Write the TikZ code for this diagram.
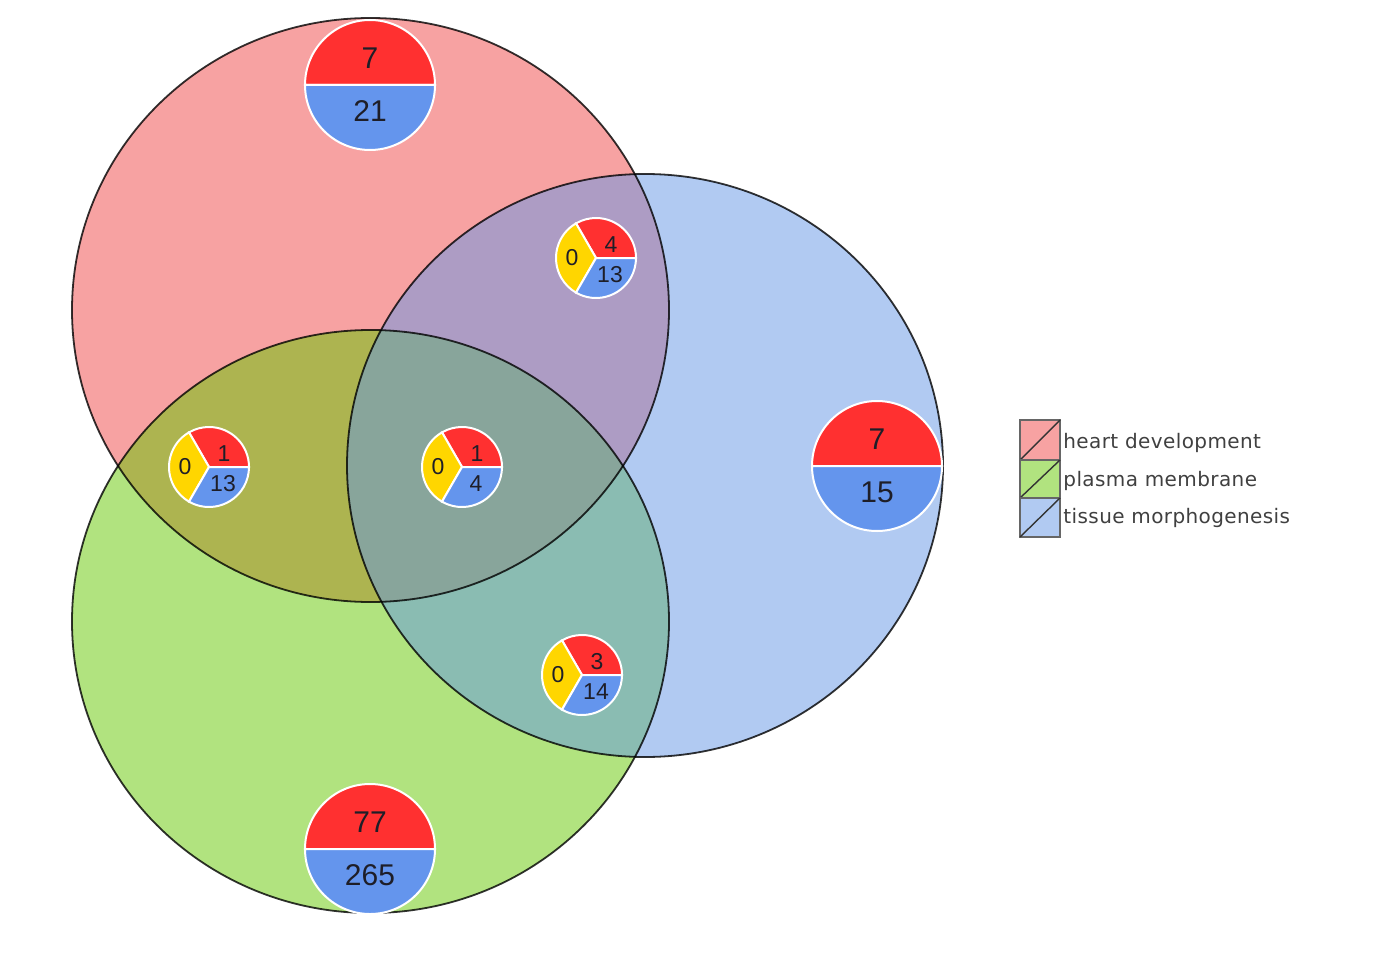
\documentclass[tikz,border=0pt]{standalone}
\usepackage{fontspec}
\setmainfont{Liberation Sans}
\newfontfamily\legendfont[LetterSpace=2]{DejaVu Sans}
\definecolor{setR}{RGB}{240,70,70}
\definecolor{setG}{RGB}{100,200,0}
\definecolor{setB}{RGB}{100,150,230}
\definecolor{pieR}{RGB}{255,48,48}
\definecolor{pieB}{RGB}{100,149,237}
\definecolor{pieY}{RGB}{255,214,0}
\definecolor{legR}{RGB}{247,162,162}
\definecolor{legG}{RGB}{177,227,127}
\definecolor{legB}{RGB}{177,202,242}
\definecolor{numtext}{RGB}{30,30,40}
\newcommand\SmPie[5]{%
  \begin{scope}[shift={(#2,#3)}]
    \filldraw[slice, fill=pieR] (0,0) -- (0:40) arc[start angle=0,end angle=120,radius=40] -- cycle;
    \filldraw[slice, fill=pieY] (0,0) -- (120:40) arc[start angle=120,end angle=240,radius=40] -- cycle;
    \filldraw[slice, fill=pieB] (0,0) -- (240:40) arc[start angle=240,end angle=360,radius=40] -- cycle;
    \node[smallnum] (#1-y) at (-24,0) {0};
    \node[smallnum] (#1-r) at (15,13) {#4};
    \node[smallnum] (#1-b) at (14,-17) {#5};
  \end{scope}}
\newcommand\BgPie[5]{%
  \begin{scope}[shift={(#2,#3)}]
    \filldraw[slice, fill=pieR] (0,0) -- (0:65) arc[start angle=0,end angle=180,radius=65] -- cycle;
    \filldraw[slice, fill=pieB] (0,0) -- (180:65) arc[start angle=180,end angle=360,radius=65] -- cycle;
    \node[bignum] (#1-r) at (0,27) {#4};
    \node[bignum] (#1-b) at (0,-26) {#5};
  \end{scope}}
\begin{document}
\begin{tikzpicture}[x=0.5pt,y=0.5pt,
  ring/.style={draw=black, line width=0.9pt, draw opacity=0.8},
  slice/.style={draw=white, line width=1pt},
  bignum/.style={font=\fontsize{15}{17}\selectfont, text=numtext, inner sep=0},
  smallnum/.style={font=\fontsize{11.5}{13}\selectfont, text=numtext, inner sep=0},
  legbox/.style={draw=black!60, line width=0.6pt},
  legdiag/.style={draw=black!80, line width=0.7pt},
  legtext/.style={font=\legendfont\fontsize{10}{12}\selectfont, text=black!75, anchor=base west, inner sep=0}]
\useasboundingbox (0,0) rectangle (1400,971);
% set fills
\fill[setR, fill opacity=0.5] (370.5,661) ellipse [x radius=298.5, y radius=292];
\fill[setG, fill opacity=0.5] (370.5,349.5) ellipse [x radius=298.5, y radius=291.5];
\fill[setB, fill opacity=0.5] (645,505.5) ellipse [x radius=298, y radius=291.5];
% outlines
\draw[ring] (370.5,661) ellipse [x radius=298.5, y radius=292];
\draw[ring] (370.5,349.5) ellipse [x radius=298.5, y radius=291.5];
\draw[ring] (645,505.5) ellipse [x radius=298, y radius=291.5];
% pies
\BgPie{pieA}{370}{886}{7}{21}
\BgPie{pieC}{877}{505}{7}{15}
\BgPie{pieB}{370}{122}{77}{265}
\SmPie{pieAC}{596}{713}{4}{13}
\SmPie{pieAB}{209}{504}{1}{13}
\SmPie{pieABC}{462}{504}{1}{4}
\SmPie{pieBC}{582}{296}{3}{14}
% legend
\filldraw[legbox, fill=legR] (1020,511) rectangle (1060,551);
\draw[legdiag] (1020,511) -- (1060,551);
\filldraw[legbox, fill=legG] (1020,473) rectangle (1060,511);
\draw[legdiag] (1020,473) -- (1060,511);
\filldraw[legbox, fill=legB] (1020,434) rectangle (1060,473);
\draw[legdiag] (1020,434) -- (1060,473);
\node[legtext] (legA) at (1063,523) {heart development};
\node[legtext] (legB) at (1063,485) {plasma membrane};
\node[legtext] (legC) at (1063,448) {tissue morphogenesis};
\end{tikzpicture}
\end{document}
